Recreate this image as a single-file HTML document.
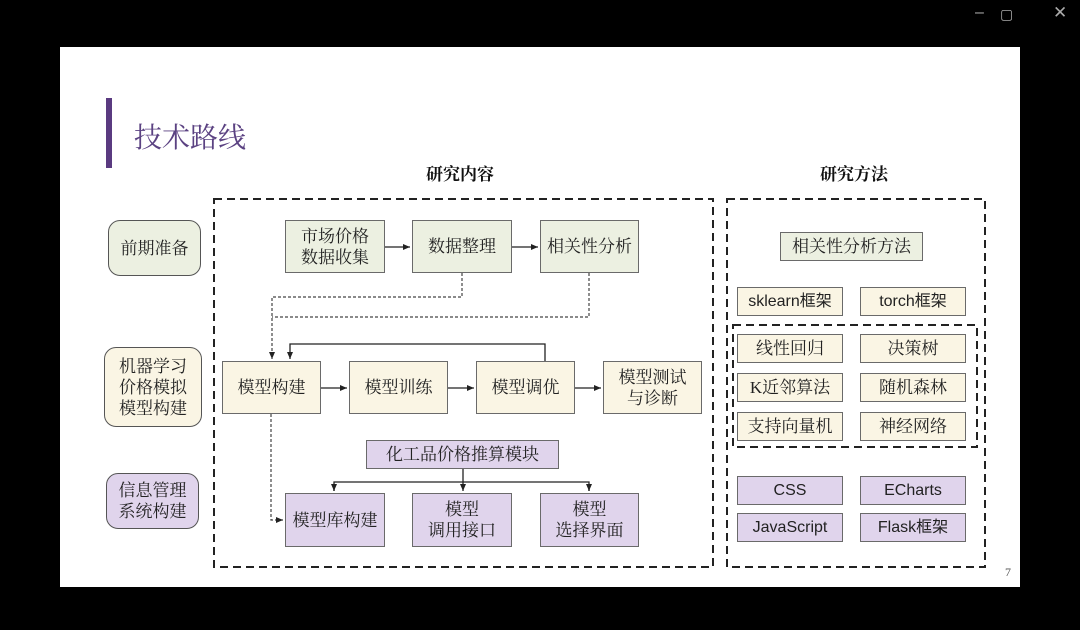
<!DOCTYPE html>
<html><head><meta charset="utf-8"><style>
body{margin:0;width:1080px;height:630px;background:#000;position:relative;overflow:hidden;font-family:"Liberation Serif","Noto Serif CJK SC","Noto Sans CJK SC",serif;}
.slide{position:absolute;left:60px;top:47px;width:960px;height:540px;background:#fff;}
.b{position:absolute;box-sizing:border-box;border:1.5px solid #6a6a6a;display:flex;align-items:center;justify-content:center;text-align:center;font-size:17px;line-height:21px;color:#222;}
.g{background:#ecf0e1}.y{background:#faf5e4}.p{background:#e0d4ec}
.r{border-radius:12px;border-color:#555}
.s{font-family:"Liberation Sans","Noto Sans CJK SC",sans-serif;font-size:16px}
.t{position:absolute;font-weight:bold;font-size:17px;color:#111}
svg{position:absolute;left:0;top:0}
</style></head><body>
<div class="slide"></div>
<div style="position:absolute;left:1000px;top:6px;color:#aaa;font:14px 'Liberation Sans',sans-serif">▢</div>
<div style="position:absolute;left:975px;top:4px;color:#aaa;font:16px 'Liberation Sans',sans-serif">–</div>
<div style="position:absolute;left:1053px;top:3px;color:#aaa;font:17px 'Liberation Sans',sans-serif">✕</div>
<div style="position:absolute;left:106px;top:98px;width:6px;height:70px;background:#5a3a80"></div>
<div style="position:absolute;left:134px;top:116px;font-size:28px;color:#5b4282">技术路线</div>
<div class="t" style="left:426px;top:160px">研究内容</div>
<div class="t" style="left:820px;top:160px">研究方法</div>
<div style="position:absolute;left:1005px;top:565px;font-size:12px;color:#555">7</div>
<svg width="1080" height="630">
<defs><marker id="a" markerWidth="8" markerHeight="8" refX="7" refY="4" orient="auto" markerUnits="userSpaceOnUse"><path d="M0,1 L7,4 L0,7z" fill="#222"/></marker></defs>
<g fill="none" stroke="#222" stroke-width="2" stroke-dasharray="8,5">
<rect x="214" y="199" width="499" height="368"/>
<rect x="727" y="199" width="258" height="368"/>
<rect x="733" y="325" width="244" height="122"/>
</g>
<g fill="none" stroke="#444" stroke-width="1.2" stroke-dasharray="3,2">
<path d="M462 273 V297 H272 V359" marker-end="url(#a)"/>
<path d="M589 273 V317 H272"/>
<path d="M271 414 V520 H283" marker-end="url(#a)"/>
</g>
<g fill="none" stroke="#222" stroke-width="1.3">
<path d="M385 247 H410" marker-end="url(#a)"/>
<path d="M512 247 H538" marker-end="url(#a)"/>
<path d="M321 388 H347" marker-end="url(#a)"/>
<path d="M448 388 H474" marker-end="url(#a)"/>
<path d="M575 388 H601" marker-end="url(#a)"/>
<path d="M545 361 V344 H290 V359" marker-end="url(#a)"/>
<path d="M463 469 V491" marker-end="url(#a)"/>
<path d="M334 491 V482 H589 V491"/>
<path d="M334 484 V491" marker-end="url(#a)"/>
<path d="M589 484 V491" marker-end="url(#a)"/>
</g>
</svg>
<div class="b g r" style="left:108px;top:220px;width:93px;height:56px">前期准备</div>
<div class="b y r" style="left:104px;top:347px;width:98px;height:80px">机器学习<br>价格模拟<br>模型构建</div>
<div class="b p r" style="left:106px;top:473px;width:93px;height:56px">信息管理<br>系统构建</div>
<div class="b g" style="left:285px;top:220px;width:100px;height:53px">市场价格<br>数据收集</div>
<div class="b g" style="left:412px;top:220px;width:100px;height:53px">数据整理</div>
<div class="b g" style="left:540px;top:220px;width:99px;height:53px">相关性分析</div>
<div class="b y" style="left:222px;top:361px;width:99px;height:53px">模型构建</div>
<div class="b y" style="left:349px;top:361px;width:99px;height:53px">模型训练</div>
<div class="b y" style="left:476px;top:361px;width:99px;height:53px">模型调优</div>
<div class="b y" style="left:603px;top:361px;width:99px;height:53px">模型测试<br>与诊断</div>
<div class="b p" style="left:366px;top:440px;width:193px;height:29px">化工品价格推算模块</div>
<div class="b p" style="left:285px;top:493px;width:100px;height:54px">模型库构建</div>
<div class="b p" style="left:412px;top:493px;width:100px;height:54px">模型<br>调用接口</div>
<div class="b p" style="left:540px;top:493px;width:99px;height:54px">模型<br>选择界面</div>
<div class="b g" style="left:780px;top:232px;width:143px;height:29px">相关性分析方法</div>
<div class="b y s" style="left:737px;top:287px;width:106px;height:29px">sklearn框架</div>
<div class="b y s" style="left:860px;top:287px;width:106px;height:29px">torch框架</div>
<div class="b y" style="left:737px;top:334px;width:106px;height:29px">线性回归</div>
<div class="b y" style="left:860px;top:334px;width:106px;height:29px">决策树</div>
<div class="b y" style="left:737px;top:373px;width:106px;height:29px">K近邻算法</div>
<div class="b y" style="left:860px;top:373px;width:106px;height:29px">随机森林</div>
<div class="b y" style="left:737px;top:412px;width:106px;height:29px">支持向量机</div>
<div class="b y" style="left:860px;top:412px;width:106px;height:29px">神经网络</div>
<div class="b p s" style="left:737px;top:476px;width:106px;height:29px">CSS</div>
<div class="b p s" style="left:860px;top:476px;width:106px;height:29px">ECharts</div>
<div class="b p s" style="left:737px;top:513px;width:106px;height:29px">JavaScript</div>
<div class="b p s" style="left:860px;top:513px;width:106px;height:29px">Flask框架</div>
</body></html>
